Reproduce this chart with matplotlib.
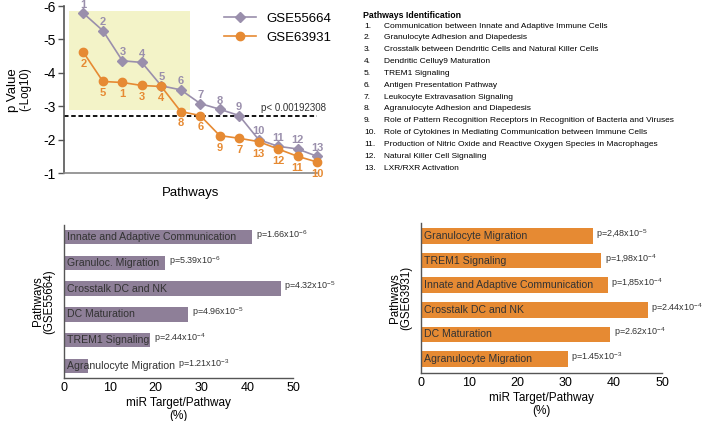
import numpy as np
import matplotlib.pyplot as plt
import matplotlib.patches as mpatches

plt.rcParams['font.family'] = ['Liberation Sans', 'DejaVu Sans']
plt.rcParams['axes.unicode_minus'] = False
plt.rcParams['mathtext.fontset'] = 'custom'
plt.rcParams['mathtext.rm'] = 'Liberation Sans'
plt.rcParams['mathtext.it'] = 'Liberation Sans:italic'
plt.rcParams['mathtext.bf'] = 'Liberation Sans:bold'

# ---- data ----
pos = np.arange(1, 14)
gse55664 = [-5.78, -5.26, -4.36, -4.31, -3.61, -3.49, -3.08, -2.91, -2.72,
            -2.00, -1.80, -1.72, -1.50]
gse55664_ids = [1, 2, 3, 4, 5, 6, 7, 8, 9, 10, 11, 12, 13]
gse63931 = [-4.61, -3.74, -3.71, -3.62, -3.59, -2.84, -2.72, -2.12, -2.04,
            -1.94, -1.72, -1.50, -1.33]
gse63931_ids = [2, 5, 1, 3, 4, 8, 6, 9, 7, 13, 12, 11, 10]
threshold = -2.716

pathway_names = [
    "Communication between Innate and Adaptive Immune Cells",
    "Granulocyte Adhesion and Diapedesis",
    "Crosstalk between Dendritic Cells and Natural Killer Cells",
    "Dendritic Celluy9 Maturation",
    "TREM1 Signaling",
    "Antigen Presentation Pathway",
    "Leukocyte Extravasation Signaling",
    "Agranulocyte Adhesion and Diapedesis",
    "Role of Pattern Recognition Receptors in Recognition of Bacteria and Viruses",
    "Role of Cytokines in Mediating Communication between Immune Cells",
    "Production of Nitric Oxide and Reactive Oxygen Species in Macrophages",
    "Natural Killer Cell Signaling",
    "LXR/RXR Activation",
]

bar1_labels = ["Innate and Adaptive Communication", "Granuloc. Migration",
               "Crosstalk DC and NK", "DC Maturation", "TREM1 Signaling",
               "Agranulocyte Migration"]
bar1_vals = [41.1, 22.1, 47.3, 27.1, 18.8, 5.3]
bar1_p = ["p=1.66x10$^{-6}$", "p=5.39x10$^{-6}$", "p=4.32x10$^{-5}$",
          "p=4.96x10$^{-5}$", "p=2.44x10$^{-4}$", "p=1.21x10$^{-3}$"]

bar2_labels = ["Granulocyte Migration", "TREM1 Signaling",
               "Innate and Adaptive Communication", "Crosstalk DC and NK",
               "DC Maturation", "Agranulocyte Migration"]
bar2_vals = [35.6, 37.3, 38.7, 47.0, 39.2, 30.4]
bar2_p = ["p=2,48x10$^{-5}$", "p=1,98x10$^{-4}$", "p=1,85x10$^{-4}$",
          "p=2.44x10$^{-4}$", "p=2.62x10$^{-4}$", "p=1.45x10$^{-3}$"]

purple_line = '#9a8fac'
purple_bar = '#8e7f98'
orange = '#e68a33'
spine_col = '#555555'

W, H = 708, 421
fig = plt.figure(figsize=(7.08, 4.21), dpi=100)

def fx(px):
    return px / W

def fy(py):
    return 1 - py / H

# ---- top line chart ----
ax = fig.add_axes([fx(64), fy(173), fx(317) - fx(64), fy(6) - fy(173)])
ax.add_patch(mpatches.Rectangle((0.25, -5.86), 6.2, 2.97, color='#f3f3c8',
                                lw=0, zorder=0))
ax.plot(pos, gse55664, '-D', color=purple_line, ms=5.5, lw=1.2,
        label='GSE55664', clip_on=False, zorder=3)
ax.plot(pos, gse63931, '-o', color=orange, ms=6, lw=1.2,
        label='GSE63931', clip_on=False, zorder=4)
for x, y, n in zip(pos, gse55664, gse55664_ids):
    ax.annotate(str(n), (x, y), xytext=(0, 2.5), textcoords='offset points',
                ha='center', va='bottom', color=purple_line, fontsize=8,
                fontweight='bold')
for x, y, n in zip(pos, gse63931, gse63931_ids):
    ax.annotate(str(n), (x, y), xytext=(0, -5), textcoords='offset points',
                ha='center', va='top', color=orange, fontsize=8,
                fontweight='bold')
ax.axhline(threshold, xmin=0, xmax=1, color='black', ls=(0, (2.5, 1.5)),
           lw=1.3)
ax.text(13.45, threshold - 0.07, 'p< 0.00192308', ha='right', va='bottom',
        fontsize=7, color='#333333')
ax.set_xlim(0, 13)
ax.set_ylim(-1, -6)
ax.set_yticks([-6, -5, -4, -3, -2, -1])
ax.set_xticks([])
ax.tick_params(axis='y', labelsize=10, length=4, width=1, color=spine_col,
               pad=2)
for s in ['top', 'right']:
    ax.spines[s].set_visible(False)
ax.spines['left'].set_color(spine_col)
ax.spines['left'].set_linewidth(1.2)
ax.spines['bottom'].set_color('#888888')
ax.spines['bottom'].set_linewidth(1.2)
ax.set_xlabel('Pathways', fontsize=9.5, labelpad=10)
ax.legend(loc='upper left', bbox_to_anchor=(0.585, 1.03), frameon=False,
          fontsize=9.5, handlelength=2.4, labelspacing=0.5)

fig.text(fx(13), fy(90), 'p Value', rotation=90, ha='center', va='center',
         fontsize=9.5)
fig.text(fx(25), fy(89), '(-Log10)', rotation=90, ha='center', va='center',
         fontsize=8.3)

# ---- pathway identification list ----
fs_list = 6.0
fig.text(fx(363), fy(15), 'Pathways Identification', fontsize=fs_list + 0.3,
         fontweight='bold', va='center', ha='left')
for i, name in enumerate(pathway_names):
    yy = 26 + i * 11.85
    fig.text(fx(364), fy(yy), f'{i + 1}.', fontsize=fs_list, va='center',
             ha='left')
    fig.text(fx(384), fy(yy), name, fontsize=fs_list, va='center', ha='left')

# ---- bar charts ----
def bar_panel(rect, labels, vals, plabels, color, height, ylim, ylab):
    bx = fig.add_axes(rect)
    y = np.arange(len(vals))
    bx.barh(y, vals, height=height, color=color)
    bx.set_xlim(0, 50)
    bx.set_ylim(*ylim)
    bx.set_yticks([])
    bx.set_xticks([0, 10, 20, 30, 40, 50])
    bx.tick_params(axis='x', length=0, labelsize=9, pad=3)
    for s in ['top', 'right']:
        bx.spines[s].set_visible(False)
    for s in ['left', 'bottom']:
        bx.spines[s].set_color(spine_col)
        bx.spines[s].set_linewidth(1.0)
    fig.canvas.draw()
    r = fig.canvas.get_renderer()
    inv = bx.transData.inverted()
    for yi, lab, v, p in zip(y, labels, vals, plabels):
        t = bx.text(0.6, yi, lab, ha='left', va='center', fontsize=7.6,
                    color='#333333')
        ext = t.get_window_extent(renderer=r)
        tend = inv.transform((ext.x1, 0))[0]
        start = max(v, tend) + 0.8
        bx.text(start, yi - 0.08, p, ha='left', va='center', fontsize=6.5,
                color='#333333', clip_on=False)
    bx.set_xlabel('miR Target/Pathway\n(%)', fontsize=8.5, labelpad=2,
                  linespacing=1.1)
    bx.set_ylabel(ylab, fontsize=8.3, labelpad=6, linespacing=1.0)
    return bx

bar_panel([fx(64), fy(378), fx(293) - fx(64), fy(225) - fy(378)],
          bar1_labels, bar1_vals, bar1_p, purple_bar, 0.57, (5.47, -0.47),
          'Pathways\n(GSE55664)')
bar_panel([fx(421), fy(373), fx(662) - fx(421), fy(223) - fy(373)],
          bar2_labels, bar2_vals, bar2_p, orange, 0.64, (5.57, -0.53),
          'Pathways\n(GSE63931)')

fig.savefig('out.png', dpi=100, facecolor='white')
